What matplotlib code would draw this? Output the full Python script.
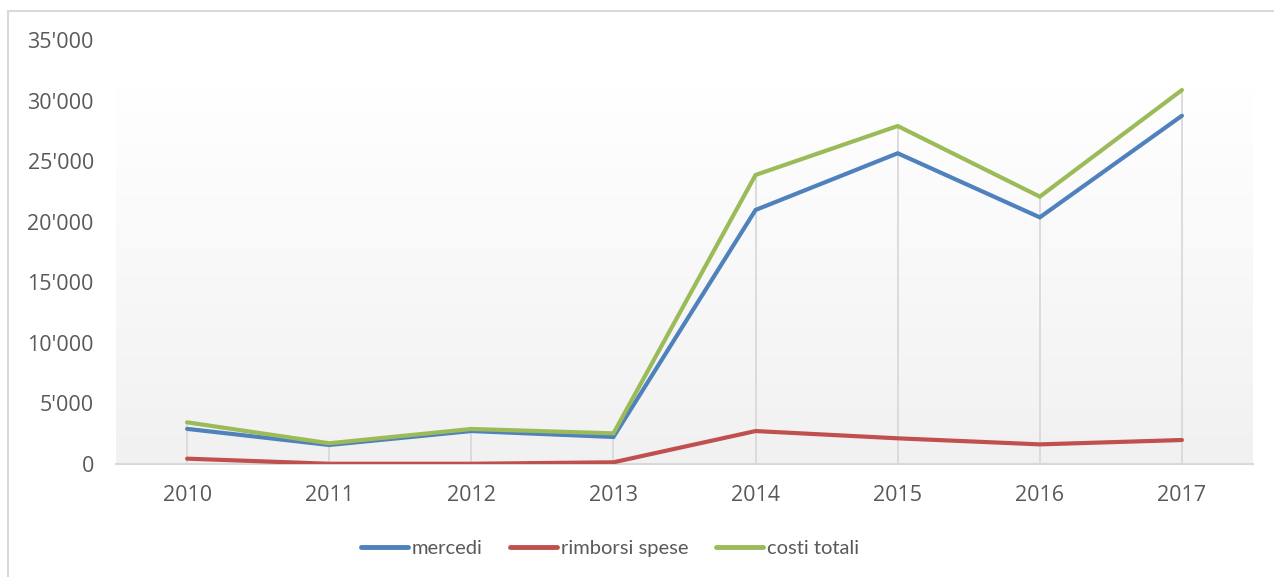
import matplotlib
matplotlib.use("Agg")
import matplotlib.pyplot as plt
import numpy as np
from matplotlib.patches import Rectangle
from matplotlib.ticker import FuncFormatter

years = ["2010", "2011", "2012", "2013", "2014", "2015", "2016", "2017"]
mercedi = [2900, 1570, 2720, 2230, 20970, 25650, 20360, 28750]
rimborsi_spese = [440, 20, 20, 140, 2720, 2120, 1620, 1980]
costi_totali = [3440, 1710, 2890, 2530, 23860, 27900, 22070, 30870]
series_names = ["mercedi", "rimborsi spese", "costi totali"]
colors = ["#4F81BD", "#C0504D", "#9BBB59"]

W, H = 1274, 577
fig = plt.figure(figsize=(W / 100, H / 100), dpi=100)
fig.patch.set_facecolor("white")

# figure border
fig.patches.append(Rectangle((8 / W, -0.1), 1.2, 1 - 11 / H + 0.1, transform=fig.transFigure,
                             fill=False, edgecolor="#D9D9D9", linewidth=1.5, clip_on=False))

left, right = 116 / W, 1253 / W
bottom, top = 1 - 464 / H, 1 - 40 / H
ax = fig.add_axes([left, bottom, right - left, top - bottom])
ax.set_facecolor("none")

x = np.arange(len(years))
ax.set_xlim(-0.5, len(years) - 0.5)
ax.set_ylim(0, 35000)

# gradient background of plot area
grad = np.linspace(1.0, 0.945, 256).reshape(-1, 1)
grad_rgb = np.dstack([grad, grad, grad])
gtop = (464 - 88) / (464 - 40)
ax.imshow(grad_rgb, extent=(0, 1, 0, gtop), transform=ax.transAxes,
          aspect="auto", zorder=0, interpolation="bilinear")

# drop lines
maxima = np.max(np.vstack([mercedi, rimborsi_spese, costi_totali]), axis=0)
ax.vlines(x, 0, maxima, colors="#D9D9D9", linewidth=1.3, zorder=1)

for vals, name, c in zip([mercedi, rimborsi_spese, costi_totali], series_names, colors):
    ax.plot(x, vals, color=c, linewidth=3.0, label=name, zorder=3,
            solid_capstyle="round", solid_joinstyle="miter")

for s in ["top", "right", "left"]:
    ax.spines[s].set_visible(False)
ax.spines["bottom"].set_color("#D9D9D9")
ax.spines["bottom"].set_linewidth(1.5)
ax.spines["bottom"].set_zorder(2)

ax.set_xticks(x)
ax.set_xticklabels(years)
ax.set_yticks(np.arange(0, 35001, 5000))
ax.yaxis.set_major_formatter(FuncFormatter(lambda v, p: f"{int(v):,}".replace(",", "'")))
ax.tick_params(axis="both", length=0, colors="#595959", labelsize=15.5)
ax.tick_params(axis="y", pad=16)
ax.tick_params(axis="x", pad=15)
for lab in ax.get_xticklabels() + ax.get_yticklabels():
    lab.set_fontfamily("Open Sans")

leg = fig.legend(loc="center", bbox_to_anchor=(610 / W, 1 - 548 / H), ncol=3, frameon=False,
                 prop={"family": "Lato", "size": 14.5}, handlelength=2.35, handletextpad=0.2,
                 columnspacing=1.35, labelcolor="#595959")
for h in leg.legend_handles:
    h.set_linewidth(3.5)

fig.savefig("out.png", dpi=100)
